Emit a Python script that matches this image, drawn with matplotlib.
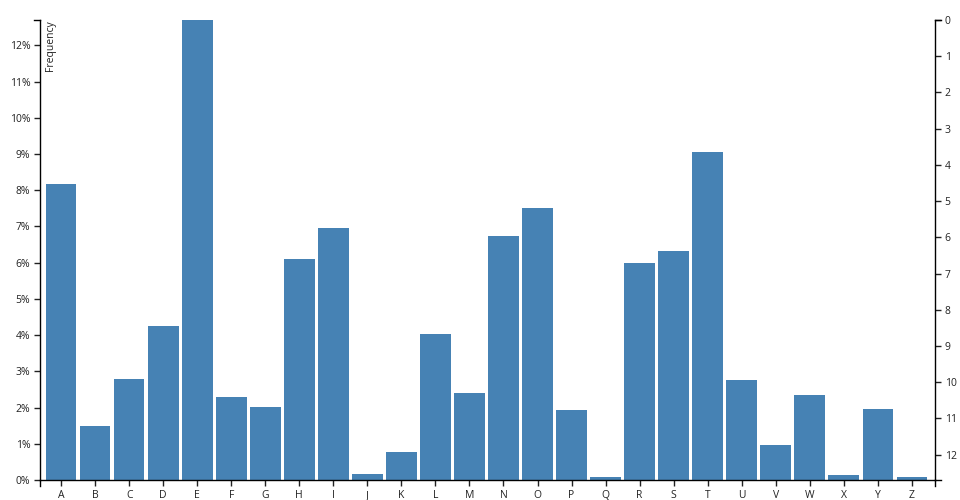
import matplotlib.pyplot as plt
from matplotlib.ticker import FuncFormatter

letters = list("ABCDEFGHIJKLMNOPQRSTUVWXYZ")
frequency = [0.08167, 0.01492, 0.02782, 0.04253, 0.12702, 0.02288, 0.02015,
             0.06094, 0.06966, 0.00153, 0.00772, 0.04025, 0.02406, 0.06749,
             0.07507, 0.01929, 0.00095, 0.05987, 0.06327, 0.09056, 0.02758,
             0.00978, 0.02360, 0.00150, 0.01974, 0.00074]
right_ticks = list(range(0, 13))

plt.rcParams['font.family'] = ['Open Sans', 'DejaVu Sans']
plt.rcParams['font.size'] = 7.5

fig = plt.figure(figsize=(9.6, 5), dpi=100)
ax = fig.add_axes([40 / 960, 20 / 500, 895 / 960, 460 / 500])

x = range(len(letters))
ax.bar(x, frequency, width=0.9, color='steelblue')
ymax = max(frequency)
ax.set_ylim(0, ymax)
ax.set_xlim(-0.62, 25.68)
ax.set_xticks(list(x))
ax.set_xticklabels(letters)
ax.set_yticks([i / 100 for i in range(13)])
ax.yaxis.set_major_formatter(FuncFormatter(lambda v, p: '%d%%' % round(v * 100)))

for s in ['top', 'right']:
    ax.spines[s].set_visible(False)
for s in ['left', 'bottom']:
    ax.spines[s].set_linewidth(1)
ax.tick_params(length=4.5, width=1, pad=2.5, colors='#222222', labelcolor='#222222')

# right axis, reversed 0..12
ax2 = ax.twinx()
ax2.set_ylim(ymax * 100, 0)
ax2.set_yticks(right_ticks)
for s in ['top', 'left', 'bottom']:
    ax2.spines[s].set_visible(False)
ax2.spines['right'].set_linewidth(1)
ax2.tick_params(length=4.5, width=1, pad=2.5, colors='#222222', labelcolor='#222222')

# d3-style outer end ticks
tk = dict(color='black', lw=1, clip_on=False, transform=fig.transFigure)
L, R, T, B = 40 / 960, 935 / 960, 1 - 20 / 500, 20 / 500
fig.add_artist(plt.Line2D([L - 6 / 960, L], [T, T], **tk))
fig.add_artist(plt.Line2D([R, R + 6 / 960], [T, T], **tk))
fig.add_artist(plt.Line2D([R, R + 6 / 960], [B, B], **tk))
fig.add_artist(plt.Line2D([L, L], [B, B - 6 / 500], **tk))
fig.add_artist(plt.Line2D([R, R], [B, B - 6 / 500], **tk))

fig.text(45 / 960, 1 - 20 / 500, 'Frequency', rotation=90, ha='left', va='top',
         color='#222222')

fig.savefig('out.png', dpi=100)
